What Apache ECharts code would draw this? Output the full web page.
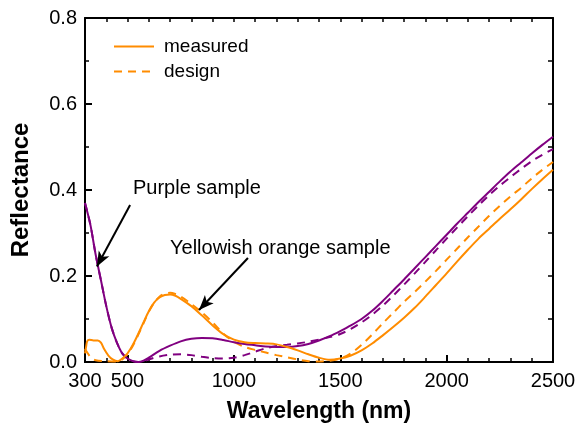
<!DOCTYPE html>
<html>
<head>
<meta charset="utf-8">
<script src="https://cdn.jsdelivr.net/npm/echarts@6/dist/echarts.min.js"></script>
<style>
  html, body { margin: 0; padding: 0; background: #fff; }
  #main { width: 580px; height: 429px; }
</style>
</head>
<body>
<div id="main"></div>
<script>
// wavelength (nm) / reflectance
var purpleX = [300, 325, 350, 375, 400, 425, 450, 475, 500, 525, 550, 575, 600, 650, 700, 750, 800, 850, 900, 950, 1000, 1050, 1100, 1150, 1200, 1250, 1300, 1350, 1400, 1450, 1500, 1550, 1600, 1650, 1700, 1750, 1800, 1850, 1900, 1950, 2000, 2050, 2100, 2150, 2200, 2250, 2300, 2350, 2400, 2450, 2500];
var purpleMeasured = [0.37, 0.32, 0.25, 0.19, 0.13, 0.08, 0.045, 0.02, 0.008, 0.002, 0.0, 0.003, 0.01, 0.026, 0.038, 0.048, 0.054, 0.056, 0.055, 0.051, 0.046, 0.042, 0.039, 0.036, 0.035, 0.035, 0.037, 0.042, 0.05, 0.06, 0.072, 0.085, 0.1, 0.119, 0.142, 0.167, 0.192, 0.218, 0.244, 0.27, 0.296, 0.322, 0.347, 0.372, 0.396, 0.42, 0.443, 0.464, 0.485, 0.505, 0.524];
var purpleDesign = [0.37, 0.32, 0.25, 0.19, 0.13, 0.08, 0.045, 0.02, 0.008, 0.002, 0.0, 0.002, 0.006, 0.013, 0.017, 0.018, 0.016, 0.012, 0.009, 0.008, 0.01, 0.016, 0.024, 0.032, 0.037, 0.04, 0.043, 0.047, 0.052, 0.058, 0.065, 0.077, 0.092, 0.11, 0.131, 0.155, 0.18, 0.206, 0.233, 0.26, 0.287, 0.313, 0.339, 0.364, 0.388, 0.41, 0.43, 0.449, 0.467, 0.482, 0.495];

var orangeMeasuredX = [300, 305, 310, 320, 340, 360, 375, 390, 410, 430, 455, 480, 500, 525, 550, 575, 600, 625, 650, 675, 700, 725, 750, 800, 850, 900, 950, 1000, 1050, 1100, 1150, 1200, 1250, 1300, 1350, 1400, 1450, 1500, 1550, 1600, 1650, 1700, 1750, 1800, 1850, 1900, 1950, 2000, 2050, 2100, 2150, 2200, 2250, 2300, 2350, 2400, 2450, 2500];
var orangeMeasured = [0.02, 0.035, 0.048, 0.052, 0.05, 0.05, 0.045, 0.03, 0.015, 0.006, 0.002, 0.01, 0.02, 0.04, 0.065, 0.092, 0.118, 0.138, 0.15, 0.156, 0.157, 0.154, 0.147, 0.13, 0.108, 0.085, 0.065, 0.052, 0.046, 0.044, 0.043, 0.041, 0.035, 0.027, 0.018, 0.01, 0.005, 0.008, 0.015, 0.027, 0.043, 0.062, 0.082, 0.103, 0.126, 0.152, 0.179, 0.206, 0.234, 0.261, 0.287, 0.31, 0.333, 0.355, 0.378, 0.402, 0.425, 0.447];

var orangeDesignX = [300, 325, 350, 400, 450, 475, 500, 525, 550, 575, 600, 625, 650, 675, 700, 725, 750, 800, 850, 900, 950, 1000, 1050, 1100, 1150, 1200, 1250, 1300, 1350, 1400, 1450, 1500, 1550, 1600, 1650, 1700, 1750, 1800, 1850, 1900, 1950, 2000, 2050, 2100, 2150, 2200, 2250, 2300, 2350, 2400, 2450, 2500];
var orangeDesign = [0.03, 0.012, 0.004, 0.002, 0.001, 0.006, 0.018, 0.038, 0.063, 0.09, 0.117, 0.138, 0.152, 0.159, 0.161, 0.158, 0.152, 0.135, 0.115, 0.092, 0.066, 0.047, 0.035, 0.028, 0.022, 0.016, 0.011, 0.006, 0.002, 0.001, 0.003, 0.008, 0.02, 0.04, 0.064, 0.09, 0.115, 0.14, 0.163, 0.187, 0.212, 0.238, 0.264, 0.29, 0.315, 0.34, 0.363, 0.385, 0.405, 0.427, 0.447, 0.465];

var xLabels = [300, 500, 1000, 1500, 2000, 2500];
var xMajorTicks = [500, 1000, 1500, 2000, 2500];
var xMinorTicks = [];
for (var w = 400; w < 2500; w += 100) {
  if (w % 500 !== 0) xMinorTicks.push(w);
}
var xAllTicks = [];
for (var w2 = 300; w2 <= 2500; w2 += 100) xAllTicks.push(w2);

function pairs(xs, ys) {
  return xs.map(function (x, i) { return [x, ys[i]]; });
}

var ORANGE = '#ff8c00';
var PURPLE = '#800080';
var FONT = 'Liberation Sans, Arial, sans-serif';

var chart = echarts.init(document.getElementById('main'), null, { renderer: 'canvas' });

function baseX(extra) {
  return Object.assign({
    type: 'value',
    min: 300,
    max: 2500,
    splitLine: { show: false },
    axisLine: { show: true, onZero: false, lineStyle: { color: '#000', width: 2 } },
    axisLabel: { show: false },
    axisTick: { show: false }
  }, extra);
}

var option = {
  backgroundColor: '#fff',
  animation: false,
  grid: { left: 85, right: 27, top: 18, bottom: 67 },
  legend: {
    orient: 'vertical',
    left: 108,
    top: 32,
    itemWidth: 40,
    itemHeight: 12,
    itemGap: 6,
    itemStyle: { opacity: 0, borderWidth: 0 },
    data: ['measured', 'design'],
    textStyle: { fontFamily: FONT, fontSize: 19, color: '#000', padding: [0, 0, 0, 5] }
  },
  xAxis: [
    baseX({
      position: 'bottom',
      name: 'Wavelength (nm)',
      nameLocation: 'middle',
      nameGap: 38,
      nameTextStyle: { fontFamily: FONT, fontSize: 23, fontWeight: 'bold', color: '#000' },
      axisTick: { show: true, inside: true, length: 7, customValues: xMajorTicks, lineStyle: { color: '#000', width: 2 } },
      axisLabel: {
        show: true, customValues: xLabels, margin: 9, fontFamily: FONT, fontSize: 20, color: '#000',
        formatter: function (v) { return String(v); }
      }
    }),
    baseX({
      position: 'bottom',
      axisTick: { show: true, inside: true, length: 4, customValues: xMinorTicks, lineStyle: { color: '#000', width: 1.5 } }
    }),
    baseX({
      position: 'top',
      axisTick: { show: true, inside: true, length: 4, customValues: xAllTicks, lineStyle: { color: '#000', width: 1.5 } }
    })
  ],
  yAxis: [
    {
      type: 'value',
      position: 'left',
      min: 0,
      max: 0.8,
      interval: 0.2,
      name: 'Reflectance',
      nameLocation: 'middle',
      nameGap: 52,
      nameTextStyle: { fontFamily: FONT, fontSize: 24, fontWeight: 'bold', color: '#000' },
      splitLine: { show: false },
      axisLine: { show: true, onZero: false, lineStyle: { color: '#000', width: 2 } },
      axisTick: { show: true, inside: true, length: 7, lineStyle: { color: '#000', width: 2 } },
      minorTick: { show: true, splitNumber: 2, length: 4, lineStyle: { color: '#000', width: 1.5 } },
      axisLabel: {
        margin: 8, fontFamily: FONT, fontSize: 20, color: '#000',
        formatter: function (v) { return v.toFixed(1); }
      }
    },
    {
      type: 'value',
      position: 'right',
      min: 0,
      max: 0.8,
      interval: 0.1,
      splitLine: { show: false },
      axisLine: { show: true, onZero: false, lineStyle: { color: '#000', width: 2 } },
      axisTick: { show: true, inside: true, length: 5, lineStyle: { color: '#000', width: 1.5 } },
      axisLabel: { show: false }
    }
  ],
  series: [
    {
      name: 'purple measured',
      type: 'line',
      data: pairs(purpleX, purpleMeasured),
      smooth: 0.3,
      symbol: 'none',
      lineStyle: { color: PURPLE, width: 2 },
      itemStyle: { color: PURPLE },
      z: 3,
      markLine: {
        silent: true,
        symbol: ['none', 'arrow'],
        symbolSize: [9, 15],
        label: { show: false },
        lineStyle: { color: '#000', width: 2, type: 'solid' },
        data: [
          [{ coord: [512, 0.365] }, { coord: [356, 0.222] }],
          [{ coord: [1066, 0.242] }, { coord: [836, 0.121] }]
        ]
      }
    },
    {
      name: 'purple design',
      type: 'line',
      data: pairs(purpleX, purpleDesign),
      smooth: 0.3,
      symbol: 'none',
      lineStyle: { color: PURPLE, width: 2, type: [8, 6] },
      itemStyle: { color: PURPLE },
      z: 2
    },
    {
      name: 'measured',
      type: 'line',
      data: pairs(orangeMeasuredX, orangeMeasured),
      smooth: 0.3,
      symbol: 'none',
      lineStyle: { color: ORANGE, width: 2 },
      itemStyle: { color: ORANGE },
      z: 3
    },
    {
      name: 'design',
      type: 'line',
      data: pairs(orangeDesignX, orangeDesign),
      smooth: 0.3,
      symbol: 'none',
      lineStyle: { color: ORANGE, width: 2, type: [8, 6] },
      itemStyle: { color: ORANGE },
      z: 2
    }
  ],
  graphic: [
    {
      type: 'text', left: 133, top: 178,
      style: { text: 'Purple sample', font: '20px ' + FONT, fill: '#000' }
    },
    {
      type: 'text', left: 170, top: 238,
      style: { text: 'Yellowish orange sample', font: '20px ' + FONT, fill: '#000' }
    }
  ]
};

chart.setOption(option);
</script>
</body>
</html>
